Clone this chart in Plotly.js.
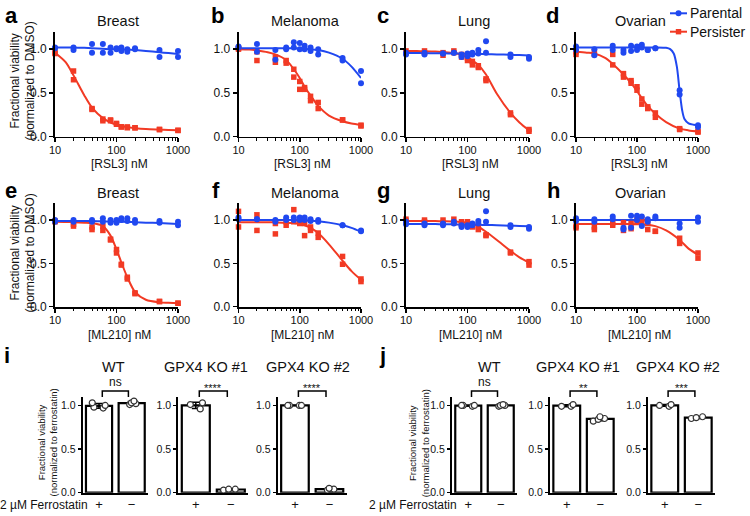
<!DOCTYPE html>
<html><head><meta charset="utf-8">
<script src="https://cdn.plot.ly/plotly-3.0.1.min.js"></script>
<style>html,body{margin:0;padding:0;background:#fff}</style>
</head><body><div id="chart" style="width:750px;height:516px"></div>
<script>
// ---------- DATA ----------
const doses = [10, 20, 40, 60, 80, 100, 120, 150, 200, 500, 1000];
const fitX = [10, 15, 20, 30, 40, 60, 80, 100, 120, 150, 200, 300, 500, 700, 1000];
const fitXdPar = [10, 100, 200, 300, 350, 400, 450, 500, 550, 600, 700, 850, 1000];

// a  Breast RSL3
const aPar1 = [1.02,1.02,1.06,1.06,1.02,1.01,1.02,1.00,1.01,0.99,0.98];
const aPar2 = [1.01,0.99,0.96,0.96,0.96,1.00,0.98,0.97,1.00,0.91,0.91];
const aPer1 = [0.96,0.75,0.32,0.20,0.19,0.15,0.11,0.11,0.10,0.08,0.07];
const aPer2 = [0.95,0.65,0.31,0.18,0.18,0.14,0.11,0.10,0.10,0.08,0.07];
const aParFit = [1.02,1.02,1.02,1.015,1.01,1.005,1.0,1.0,0.997,0.995,0.99,0.98,0.965,0.955,0.945];
const aPerFit = [0.96,0.85,0.70,0.47,0.33,0.21,0.16,0.135,0.12,0.105,0.095,0.085,0.078,0.074,0.072];
// b  Melanoma RSL3
const bPar1 = [1.03,1.06,0.99,1.02,1.08,1.07,1.04,1.02,1.00,0.90,0.75];
const bPar2 = [1.02,0.97,0.88,1.00,1.02,1.00,1.00,0.98,0.94,0.87,0.61];
const bPer1 = [1.01,0.97,0.91,0.87,0.77,0.63,0.56,0.46,0.39,0.19,0.13];
const bPer2 = [1.00,0.87,0.85,0.84,0.68,0.54,0.54,0.41,0.32,0.19,0.12];
const bParFit = [1.01,1.01,1.01,1.01,1.01,1.01,1.01,1.005,1.003,1.0,0.99,0.96,0.89,0.80,0.67];
const bPerFit = [1.0,0.995,0.985,0.965,0.94,0.875,0.77,0.67,0.57,0.47,0.35,0.24,0.175,0.15,0.135];
// c  Lung RSL3
const cPar1 = [0.96,0.96,0.95,0.96,0.94,0.95,0.96,0.99,1.09,0.94,0.91];
const cPar2 = [0.94,0.94,0.95,0.96,0.91,0.92,0.94,0.95,0.96,0.91,0.89];
const cPer1 = [0.98,0.98,0.96,0.98,0.94,0.90,0.86,0.81,0.66,0.27,0.08];
const cPer2 = [0.96,0.96,0.93,0.96,0.91,0.87,0.82,0.79,0.64,0.25,0.06];
const cParFit = [0.955,0.955,0.955,0.953,0.952,0.95,0.948,0.947,0.946,0.945,0.943,0.94,0.935,0.932,0.928];
const cPerFit = [0.98,0.978,0.976,0.972,0.966,0.955,0.935,0.905,0.87,0.82,0.71,0.49,0.27,0.16,0.07];
// d  Ovarian RSL3
const dPar1 = [1.03,1.00,1.04,0.99,1.04,1.03,1.05,0.99,1.01,0.53,0.13];
const dPar2 = [0.99,0.93,0.99,0.96,0.98,0.99,1.02,0.99,1.01,0.48,0.11];
const dPer1 = [0.97,0.97,0.94,0.72,0.64,0.57,0.43,0.34,0.27,0.09,0.06];
const dPer2 = [0.94,0.94,0.82,0.68,0.61,0.53,0.37,0.32,0.22,0.08,0.05];
const dParFit = [1.02,1.02,1.02,1.015,1.0,0.95,0.80,0.52,0.30,0.20,0.15,0.135,0.13];
const dPerFit = [0.97,0.96,0.95,0.90,0.83,0.71,0.61,0.52,0.44,0.35,0.26,0.165,0.09,0.07,0.06];
// e  Breast ML210
const ePar1 = [1.00,1.00,1.00,1.02,1.00,1.00,1.02,1.02,1.00,0.99,0.98];
const ePar2 = [0.98,0.98,0.98,0.98,0.97,0.97,1.00,0.99,0.97,0.97,0.94];
const ePer1 = [0.99,0.95,0.92,0.93,0.78,0.66,0.49,0.34,0.16,0.06,0.04];
const ePer2 = [0.98,0.93,0.89,0.88,0.77,0.62,0.48,0.32,0.15,0.06,0.04];
const eParFit = [0.99,0.99,0.99,0.99,0.988,0.985,0.983,0.982,0.98,0.978,0.975,0.97,0.965,0.96,0.955];
const ePerFit = [0.98,0.978,0.975,0.97,0.965,0.93,0.82,0.66,0.51,0.34,0.17,0.08,0.05,0.045,0.04];
// f  Melanoma ML210
const fPar1 = [1.03,1.01,1.00,1.03,1.03,1.03,1.03,1.01,1.00,0.94,0.88];
const fPar2 = [1.01,1.01,0.98,1.00,1.00,1.00,1.00,0.99,0.98,0.94,0.87];
const fPer1 = [1.10,1.06,0.96,0.98,1.12,1.00,0.96,0.92,0.85,0.58,0.32];
const fPer2 = [0.92,0.88,0.84,0.94,0.98,0.96,0.82,0.88,0.80,0.49,0.29];
const fParFit = [1.0,1.0,1.0,1.0,1.0,1.0,1.0,0.998,0.995,0.992,0.985,0.97,0.94,0.91,0.865];
const fPerFit = [0.975,0.975,0.975,0.974,0.973,0.97,0.965,0.955,0.94,0.91,0.85,0.72,0.53,0.41,0.31];
// g  Lung ML210
const gPar1 = [0.98,0.96,0.96,0.98,0.94,0.94,0.96,0.99,1.10,0.94,0.92];
const gPar2 = [0.95,0.94,0.94,0.96,0.92,0.92,0.94,0.96,0.98,0.92,0.90];
const gPer1 = [1.01,1.00,1.00,1.01,0.98,0.98,0.94,0.92,0.83,0.63,0.52];
const gPer2 = [0.99,0.98,0.97,0.97,0.95,0.94,0.92,0.89,0.82,0.62,0.48];
const gParFit = [0.955,0.955,0.955,0.953,0.952,0.95,0.948,0.947,0.946,0.945,0.943,0.94,0.935,0.932,0.928];
const gPerFit = [0.99,0.99,0.99,0.988,0.986,0.983,0.978,0.97,0.955,0.925,0.865,0.77,0.645,0.57,0.51];
// h  Ovarian ML210
const hPar1 = [1.02,1.01,1.04,0.91,1.05,1.05,1.04,1.01,1.04,0.96,1.03];
const hPar2 = [0.99,0.98,1.01,0.89,0.91,1.00,0.93,0.98,1.02,0.91,0.98];
const hPer1 = [0.93,0.92,0.97,0.97,0.96,1.01,1.01,0.96,0.87,0.79,0.62];
const hPer2 = [0.91,0.89,0.94,0.88,0.90,0.98,0.97,0.89,0.87,0.73,0.56];
const hParFit = [1.0,1.0,1.0,1.0,1.0,1.0,1.0,1.0,1.0,1.0,1.0,1.0,1.0,1.0,1.0];
const hPerFit = [0.955,0.955,0.955,0.955,0.955,0.954,0.953,0.952,0.95,0.945,0.93,0.88,0.77,0.67,0.60];

// bar panels i and j
const barCats = ['+', '\u2212'];
const iWTPlus = [1.03,0.98,0.97,1.00],  iWTMinus = [1.05,1.02,1.03,1.01];
const iKO1Plus = [1.03,0.96,1.01],      iKO1Minus = [0.04,0.03,0.04];
const iKO2Plus = [1.0,1.0,1.0,1.0],     iKO2Minus = [0.05,0.03,0.04];
const jWTPlus = [1.0,0.99,1.0,1.0],     jWTMinus = [1.0,0.99,1.0,1.01];
const jKO1Plus = [1.01,0.99,0.99],      jKO1Minus = [0.87,0.82,0.84,0.85];
const jKO2Plus = [1.01,1.0,0.99],       jKO2Minus = [0.87,0.85,0.86];
const sigLabels = ['ns','****','****','ns','**','***'];
const groupTitles = ['WT','GPX4 KO #1','GPX4 KO #2','WT','GPX4 KO #1','GPX4 KO #2'];
const lineTitles = ['Breast','Melanoma','Lung','Ovarian','Breast','Melanoma','Lung','Ovarian'];
const seriesNames = ['Parental','Persister'];

// ---------- LAYOUT HELPERS ----------
const W = 750, H = 516;
const px = x => x / W, py = y => 1 - y / H;
const BLUE = 'rgb(32,72,240)', RED = 'rgb(242,58,36)';
const FONT = '"Liberation Sans", Arial, Helvetica, sans-serif';
const INK = '#111';

const linePanels = [
  {xd:[55,178],  yd:[31.7,136.5],  par:[aPar1,aPar2], per:[aPer1,aPer2], parFit:[fitX,aParFit], perFit:[fitX,aPerFit]},
  {xd:[238.5,361], yd:[31.7,136.5], par:[bPar1,bPar2], per:[bPer1,bPer2], parFit:[fitX,bParFit], perFit:[fitX,bPerFit]},
  {xd:[406,529], yd:[31.7,136.5],  par:[cPar1,cPar2], per:[cPer1,cPer2], parFit:[fitX,cParFit], perFit:[fitX,cPerFit]},
  {xd:[576,698], yd:[31.7,136.5],  par:[dPar1,dPar2], per:[dPer1,dPer2], parFit:[fitXdPar,dParFit], perFit:[fitX,dPerFit]},
  {xd:[55,178],  yd:[202.7,306.7], par:[ePar1,ePar2], per:[ePer1,ePer2], parFit:[fitX,eParFit], perFit:[fitX,ePerFit]},
  {xd:[238.5,361], yd:[202.7,306.7], par:[fPar1,fPar2], per:[fPer1,fPer2], parFit:[fitX,fParFit], perFit:[fitX,fPerFit]},
  {xd:[406,529], yd:[202.7,306.7], par:[gPar1,gPar2], per:[gPer1,gPer2], parFit:[fitX,gParFit], perFit:[fitX,gPerFit]},
  {xd:[576,698], yd:[202.7,306.7], par:[hPar1,hPar2], per:[hPer1,hPer2], parFit:[fitX,hParFit], perFit:[fitX,hPerFit]}
];
const barPanels = [
  {xd:[82.7,148],  plus:iWTPlus,  minus:iWTMinus},
  {xd:[178.3,248.3], plus:iKO1Plus, minus:iKO1Minus},
  {xd:[277.7,346.7], plus:iKO2Plus, minus:iKO2Minus},
  {xd:[452,517],   plus:jWTPlus,  minus:jWTMinus},
  {xd:[550,617],   plus:jKO1Plus, minus:jKO1Minus},
  {xd:[648,715],   plus:jKO2Plus, minus:jKO2Minus}
];
const barYd = [396.7, 492.7];

const mean = a => a.reduce((s,v)=>s+v,0)/a.length;
const sd = a => { const m = mean(a); return Math.sqrt(a.reduce((s,v)=>s+(v-m)*(v-m),0)/(a.length-1)); };

const traces = [];
const layout = {
  width: W, height: H, margin:{l:0,r:0,t:0,b:0},
  paper_bgcolor:'#fff', plot_bgcolor:'rgba(0,0,0,0)',
  font:{family:FONT, color:INK, size:11},
  showlegend:false,
  barmode:'group', bargap:0.2,
  annotations:[], shapes:[]
};

const axBase = {showline:true, linecolor:'#000', linewidth:1.8, ticks:'outside', tickcolor:'#000', tickwidth:1.5, ticklen:4,
  showgrid:false, zeroline:false, tickfont:{size:11, color:INK, family:FONT}, fixedrange:true};

let n = 0;
linePanels.forEach((p, k) => {
  n++;
  const xa = 'x' + (n===1?'':n), ya = 'y' + (n===1?'':n);
  layout['xaxis'+(n===1?'':n)] = Object.assign({}, axBase, {
    type:'log', range:[1,3], domain:[px(p.xd[0]), px(p.xd[1])], anchor:ya,
    tickvals:[10,100,1000], ticktext:['10','100','1000'], ticklabelstandoff:-2,
    minor:{ticks:'outside', ticklen:2.5, tickwidth:1, tickcolor:'#000', dtick:'D1', showgrid:false}
  });
  layout['yaxis'+(n===1?'':n)] = Object.assign({}, axBase, {
    range:[0,1.2], domain:[py(p.yd[1]), py(p.yd[0])], anchor:xa,
    tickvals:[0,0.5,1], ticktext:['0.0','0.5','1.0'], tickfont:{size:12, color:INK, family:FONT}
  });
  const dd = doses.concat(doses);
  traces.push({type:'scatter', mode:'lines', x:p.perFit[0], y:p.perFit[1], xaxis:xa, yaxis:ya, name:seriesNames[1],
    line:{color:RED, width:2, shape:'spline', smoothing:0.8}, hoverinfo:'skip', cliponaxis:false});
  traces.push({type:'scatter', mode:'lines', x:p.parFit[0], y:p.parFit[1], xaxis:xa, yaxis:ya, name:seriesNames[0],
    line:{color:BLUE, width:2, shape:'spline', smoothing:0.8}, hoverinfo:'skip', cliponaxis:false});
  traces.push({type:'scatter', mode:'markers', x:dd, y:p.per[0].concat(p.per[1]), xaxis:xa, yaxis:ya, name:seriesNames[1],
    marker:{symbol:'square', size:5.5, color:RED}, cliponaxis:false});
  traces.push({type:'scatter', mode:'markers', x:dd, y:p.par[0].concat(p.par[1]), xaxis:xa, yaxis:ya, name:seriesNames[0],
    marker:{symbol:'circle', size:6, color:BLUE}, cliponaxis:false});
  const cx = (p.xd[0]+p.xd[1])/2;
  const row1 = k < 4;
  const titleX = [117.5, 305, 474, 640][k%4];
  layout.annotations.push({text:lineTitles[k], xref:'paper', yref:'paper', x:px(titleX), y:py(row1?21.5:193.1),
    xanchor:'center', yanchor:'middle', showarrow:false, font:{size:14.5, color:INK}});
  layout.annotations.push({text:row1?'[RSL3] nM':'[ML210] nM', xref:'paper', yref:'paper', x:px(cx+2.5), y:py(row1?164.3:334.5),
    xanchor:'center', yanchor:'middle', showarrow:false, font:{size:12, color:INK}});
});

// legend (drawn as key glyphs + labels, top right)
[[13.3, BLUE, 'circle'], [31.7, RED, 'square']].forEach(([y, col, sym], k) => {
  layout.shapes.push({type:'line', xref:'paper', yref:'paper', x0:px(670), x1:px(687), y0:py(y), y1:py(y), line:{color:col, width:2}});
  if (sym === 'circle')
    layout.shapes.push({type:'circle', xref:'paper', yref:'paper', x0:px(675.5), x1:px(681.5), y0:py(y+3), y1:py(y-3), fillcolor:col, line:{color:col, width:0}});
  else
    layout.shapes.push({type:'rect', xref:'paper', yref:'paper', x0:px(675.8), x1:px(681.2), y0:py(y+2.7), y1:py(y-2.7), fillcolor:col, line:{color:col, width:0}});
  layout.annotations.push({text:seriesNames[k], xref:'paper', yref:'paper', x:px(688), y:py(y), xanchor:'left', yanchor:'middle',
    showarrow:false, font:{size:14, color:INK}});
});

// bar panels
barPanels.forEach((p, k) => {
  n++;
  const xa = 'x' + n, ya = 'y' + n;
  layout['xaxis'+n] = Object.assign({}, axBase, {
    type:'category', categoryarray:barCats, range:[-0.5,1.5], domain:[px(p.xd[0]), px(p.xd[1])], anchor:ya,
    ticks:'', linewidth:2, tickfont:{size:13, color:INK, family:FONT}, ticklabelstandoff:-1
  });
  layout['yaxis'+n] = Object.assign({}, axBase, {
    range:[0,1.1], domain:[py(barYd[1]), py(barYd[0])], anchor:xa, linewidth:2, ticklen:3,
    tickvals:[0,0.5,1], ticktext:['0.0','0.5','1.0'], tickfont:{size:10.5, color:INK, family:FONT}
  });
  traces.push({type:'bar', x:barCats, y:[mean(p.plus), mean(p.minus)], xaxis:xa, yaxis:ya,
    marker:{color:'#fff', line:{color:'#000', width:2.2}}, hoverinfo:'skip',
    error_y:{type:'data', array:[sd(p.plus), sd(p.minus)], color:'#000', thickness:1.5, width:4}});
  const cats = p.plus.map(()=>barCats[0]).concat(p.minus.map(()=>barCats[1]));
  traces.push({type:'box', x:cats, y:p.plus.concat(p.minus), xaxis:xa, yaxis:ya,
    boxpoints:'all', jitter:1, pointpos:0, fillcolor:'rgba(0,0,0,0)', line:{color:'rgba(0,0,0,0)', width:0},
    marker:{symbol:'circle', size:6, color:'#fff', line:{color:'#333', width:1.2}}, hoverinfo:'skip'});
  const tx = [113.3, 206, 308.3, 489, 577.5, 678][k];
  layout.annotations.push({text:groupTitles[k], xref:'paper', yref:'paper', x:px(tx), y:py(366.5),
    xanchor:'center', yanchor:'middle', showarrow:false, font:{size:14.5, color:INK}});
  layout.shapes.push({type:'path', xref:xa, yref:'paper',
    path:`M 0.1 ${py(397)} L 0.1 ${py(391)} L 0.9 ${py(391)} L 0.9 ${py(397)}`,
    line:{color:'#000', width:1.5}});
  const isNs = sigLabels[k]==='ns';
  layout.annotations.push({text:sigLabels[k], xref:xa, yref:'paper', x:0.5, y:py(isNs?382:388),
    xanchor:'center', yanchor:'middle', showarrow:false, font:{size:isNs?12:11, color:INK}});
});

// panel letters
const letters = [['a',11,15.4],['b',217.5,15.4],['c',383,15.4],['d',552.5,15.4],
                 ['e',11,190.7],['f',216,190.7],['g',383.5,190.7],['h',553,190.7],
                 ['i',6.5,355.7],['j',382,355.7]];
letters.forEach(([t,x,y]) => layout.annotations.push({text:'<b>'+t+'</b>', xref:'paper', yref:'paper', x:px(x), y:py(y),
  xanchor:'center', yanchor:'middle', showarrow:false, font:{size:22, color:'#000', family:FONT}}));

// y-axis titles
[[22.5,81,'Fractional viability<br>(normalized to DMSO)',12],[22.5,253,'Fractional viability<br>(normalized to DMSO)',12],
 [46.5,443,'Fractional viability<br>(normalized to ferrostatin)',9.5],[418.3,443,'Fractional viability<br>(normalized to ferrostatin)',9.5]]
 .forEach(([x,y,t,s]) => layout.annotations.push({text:t, xref:'paper', yref:'paper', x:px(x), y:py(y), textangle:-90,
   xanchor:'center', yanchor:'middle', showarrow:false, font:{size:s, color:INK}}));

// treatment labels
[[90,504.5],[459,504.5]].forEach(([x,y]) => layout.annotations.push({text:'2 \u00b5M Ferrostatin', xref:'paper', yref:'paper',
  x:px(x), y:py(y), xanchor:'right', yanchor:'middle', showarrow:false, font:{size:12, color:INK}}));

Plotly.newPlot('chart', traces, layout, {displayModeBar:false, staticPlot:true});
</script></body></html>
